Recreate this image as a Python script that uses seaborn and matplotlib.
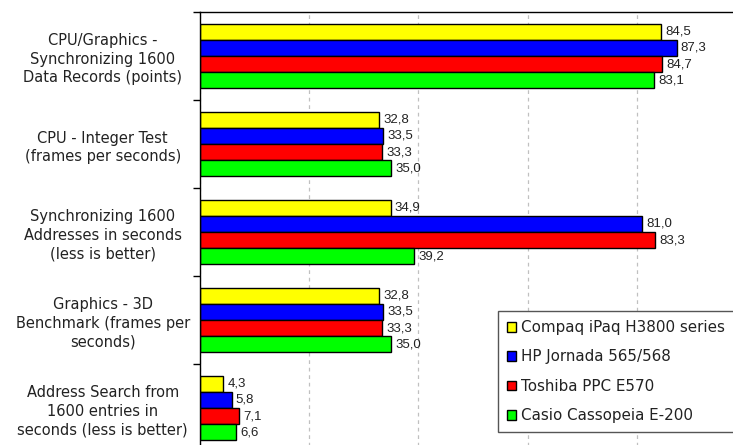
import numpy as np
import pandas as pd
import matplotlib
matplotlib.use('Agg')
import matplotlib.pyplot as plt
import seaborn as sns

# ── data ───────────────────────────────────────────────────────────
tests = [
    'CPU/Graphics -\nSynchronizing 1600\nData Records (points)',
    'CPU - Integer Test\n(frames per seconds)',
    'Synchronizing 1600\nAddresses in seconds\n(less is better)',
    'Graphics - 3D\nBenchmark (frames per\nseconds)',
    'Address Search from\n1600 entries in\nseconds (less is better)',
]
devices = ['Compaq iPaq H3800 series', 'HP Jornada 565/568',
           'Toshiba PPC E570', 'Casio Cassopeia E-200']
compaq  = [84.5, 32.8, 34.9, 32.8, 4.3]
jornada = [87.3, 33.5, 81.0, 33.5, 5.8]
toshiba = [84.7, 33.3, 83.3, 33.3, 7.1]
casio   = [83.1, 35.0, 39.2, 35.0, 6.6]
colors  = ['#ffff00', '#0000ff', '#ff0000', '#00ff00']

records = []
for dev, vals in zip(devices, [compaq, jornada, toshiba, casio]):
    records += [{'test': t, 'device': dev, 'value': v} for t, v in zip(tests, vals)]
df = pd.DataFrame(records)

sns.set_style('white')
plt.rcParams['font.family'] = ['DejaVu Sans']

W, H = 733, 445
fig = plt.figure(figsize=(W / 100, H / 100), dpi=100)
ax = fig.add_axes([200 / W, -7 / H, 546 / W, 440 / H])

sns.barplot(data=df, y='test', x='value', hue='device', orient='h',
            hue_order=devices, palette=colors, saturation=1, width=0.73,
            edgecolor='black', linewidth=1.0, ax=ax)

ax.set_xlim(0, 100)
ax.set_ylim(4.5, -0.5)
ax.set_xlabel('')
ax.set_ylabel('')
ax.set_xticks([0, 20, 40, 60, 80, 100])
ax.tick_params(axis='x', labelbottom=False, length=0)
ax.xaxis.grid(True, linestyle=(0, (3, 3)), color='#c0c0c0', linewidth=0.9)
ax.set_axisbelow(True)

for sp in ['top', 'left']:
    ax.spines[sp].set_color('black')
    ax.spines[sp].set_linewidth(1.0)

# group separators as minor ticks
ax.set_yticks(np.arange(-0.5, 5.0, 1.0), minor=True)
ax.tick_params(axis='y', which='minor', length=5, width=1, color='black', left=True)
ax.tick_params(axis='y', which='major', length=0, pad=70, labelsize=10.5,
               labelcolor='#222222')
for lbl in ax.get_yticklabels():
    lbl.set_ha('center')
    lbl.set_linespacing(1.3)

# value labels
for cont, vals in zip(ax.containers, [compaq, jornada, toshiba, casio]):
    ax.bar_label(cont, labels=[f'{v:.1f}'.replace('.', ',') for v in vals],
                 padding=3, fontsize=9.5, family='Liberation Sans', color='#222222')

leg = ax.legend(loc='upper left', bbox_to_anchor=(498 / W, 1 - 311 / H),
                bbox_transform=fig.transFigure, frameon=True, fancybox=False,
                framealpha=1, edgecolor='#555555', fontsize=10.9,
                handlelength=0.6, handleheight=0.6, handletextpad=0.3,
                labelspacing=0.95, borderpad=0.6, borderaxespad=0)
for t in leg.get_texts():
    t.set_color('#222222')

plt.savefig('out.png', dpi=100)
plt.close()
